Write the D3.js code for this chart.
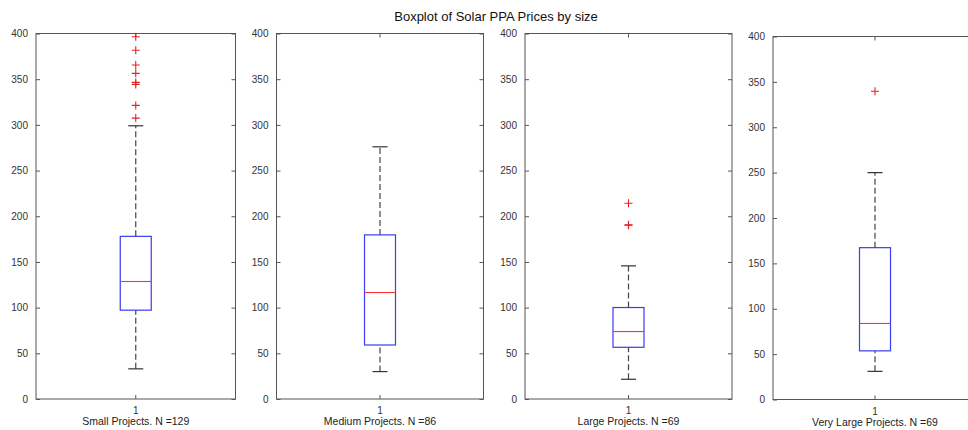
<!DOCTYPE html>
<meta charset="utf-8">
<style>
body { margin: 0; background: #fff; }
svg { font-family: "Liberation Sans", Arial, sans-serif; }
.axis path, .axis line { stroke: #555; }
.axis text { fill: #333; font-size: 10px; }
</style>
<div id="chart"></div>
<script src="https://d3js.org/d3.v7.min.js"></script>
<script>

// box statistics
var groups = ["Small Projects. N =129", "Medium Projects. N =86", "Large Projects. N =69", "Very Large Projects. N =69"];
var whiskerLow = [33, 30, 21.6, 31];
var q1 = [97.2, 59.1, 56.6, 53.6];
var medians = [128.6, 116.5, 73.8, 83.8];
var q3 = [178, 179.6, 100.1, 167.3];
var whiskerHigh = [299, 276, 145.7, 250];
var outliers = [
  [396.5, 381.6, 365.5, 356.4, 346.5, 344.3, 321.3, 307.4],
  [],
  [214.3, 190.6, 190.2],
  [339.7]
];
var yTicks = [0, 50, 100, 150, 200, 250, 300, 350, 400];

var width = 968, height = 430;

// panel frames [left, top, right, bottom]
var frames = [
  [36, 33.5, 235.5, 399],
  [276.5, 33.5, 483.5, 399],
  [525, 33.5, 732, 399],
  [773, 36.5, 977, 399.5]
];

var svg = d3.select("#chart").append("svg")
    .attr("width", width)
    .attr("height", height);

svg.append("text")
    .attr("x", 496)
    .attr("y", 21)
    .attr("text-anchor", "middle")
    .style("font-size", "13px")
    .style("fill", "#111")
    .text("Boxplot of Solar PPA Prices by size");

groups.forEach(function(name, i) {
  var f = frames[i];
  var y = d3.scaleLinear().domain([0, 400]).range([f[3], f[1]]);
  var x = d3.scaleBand().domain(["1"]).range([f[0], f[2]]);
  var cx = x("1") + x.bandwidth() / 2;
  var g = svg.append("g");

  // frame
  g.append("rect")
      .attr("x", f[0]).attr("y", f[1])
      .attr("width", f[2] - f[0]).attr("height", f[3] - f[1])
      .attr("fill", "none").attr("stroke", "#555").attr("stroke-width", 1);

  g.append("g").attr("class", "axis")
      .attr("transform", "translate(" + f[0] + ",0)")
      .call(d3.axisLeft(y).tickValues(yTicks).tickSizeInner(-4).tickSizeOuter(0).tickPadding(8))
      .call(function(s) { s.select(".domain").remove(); });

  g.append("g").attr("class", "axis")
      .attr("transform", "translate(" + f[2] + ",0)")
      .call(d3.axisRight(y).tickValues(yTicks).tickSizeInner(-4).tickSizeOuter(0).tickFormat(""))
      .call(function(s) { s.select(".domain").remove(); });

  g.append("g").attr("class", "axis")
      .attr("transform", "translate(0," + f[3] + ")")
      .call(d3.axisBottom(x).tickSizeInner(-4).tickSizeOuter(0).tickPadding(8))
      .call(function(s) { s.select(".domain").remove(); });

  g.append("g").attr("class", "axis")
      .attr("transform", "translate(0," + f[1] + ")")
      .call(d3.axisTop(x).tickSizeInner(-4).tickSizeOuter(0).tickFormat(""))
      .call(function(s) { s.select(".domain").remove(); });

  g.append("text")
      .attr("x", cx)
      .attr("y", f[3] + 26)
      .attr("text-anchor", "middle")
      .style("font-size", "10.5px")
      .style("fill", "#222")
      .text(name);

  var bw = 31, cw = 15;

  // whiskers
  [[whiskerLow[i], q1[i]], [q3[i], whiskerHigh[i]]].forEach(function(w) {
    g.append("line")
        .attr("x1", cx).attr("x2", cx)
        .attr("y1", y(w[0])).attr("y2", y(w[1]))
        .attr("stroke", "#444").attr("stroke-width", 1.2)
        .attr("stroke-dasharray", "6,3");
  });
  [whiskerLow[i], whiskerHigh[i]].forEach(function(v) {
    g.append("line")
        .attr("x1", cx - cw / 2).attr("x2", cx + cw / 2)
        .attr("y1", y(v)).attr("y2", y(v))
        .attr("stroke", "#333").attr("stroke-width", 1.2);
  });

  g.append("rect")
      .attr("x", cx - bw / 2).attr("width", bw)
      .attr("y", y(q3[i])).attr("height", y(q1[i]) - y(q3[i]))
      .attr("fill", "none").attr("stroke", "#3b3bf0").attr("stroke-width", 1.2);

  g.append("line")
      .attr("x1", cx - bw / 2).attr("x2", cx + bw / 2)
      .attr("y1", y(medians[i])).attr("y2", y(medians[i]))
      .attr("stroke", "#ff3333").attr("stroke-width", 1.1);

  g.selectAll(".out")
    .data(outliers[i])
    .enter().append("path")
      .attr("d", function(d) {
        var py = y(d);
        return "M" + (cx - 4) + "," + py + "H" + (cx + 4) + "M" + cx + "," + (py - 4) + "V" + (py + 4);
      })
      .attr("stroke", "#e82020").attr("stroke-width", 1.1);
});

</script>
